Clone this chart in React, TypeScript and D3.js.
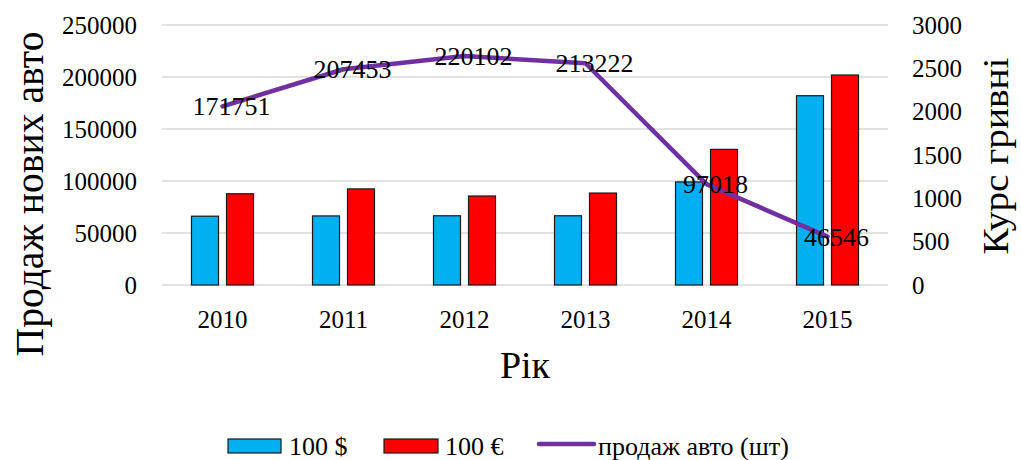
import React, { useEffect, useRef } from "react";
import * as d3 from "d3";

const years = ["2010", "2011", "2012", "2013", "2014", "2015"];
const usdRate = [794, 797, 799, 799, 1189, 2184];
const eurRate = [1053, 1109, 1027, 1061, 1565, 2423];
const carSales = [171751, 207453, 220102, 213222, 97018, 46546];
const leftTicks = [0, 50000, 100000, 150000, 200000, 250000];
const rightTicks = [0, 500, 1000, 1500, 2000, 2500, 3000];

const FONT = "'Liberation Serif', 'Times New Roman', serif";

const App = () => {
  const chartRef = useRef<SVGSVGElement>(null);

  useEffect(() => {
    const svg = d3.select(chartRef.current);
    svg.selectAll("*").remove();

    const width = 1021,
      height = 460;
    const margin = { top: 25, right: 133, bottom: 175, left: 162 };
    const innerWidth = width - margin.left - margin.right;
    const innerHeight = height - margin.top - margin.bottom;

    svg.attr("width", width).attr("height", height);
    svg.append("rect").attr("width", width).attr("height", height).attr("fill", "#fff");

    const root = svg.append("g").style("font-family", FONT);
    const g = root.append("g").attr("transform", `translate(${margin.left},${margin.top})`);

    const x0 = d3.scaleBand().domain(years).range([0, innerWidth]);
    const bw = x0.bandwidth();
    const x1 = d3
      .scaleBand()
      .domain(["usd", "eur"])
      .range([bw / 2 - 31, bw / 2 + 31])
      .paddingInner(0.229);

    const ySales = d3.scaleLinear().domain([0, 250000]).range([innerHeight, 0]);
    const yRate = d3.scaleLinear().domain([0, 3000]).range([innerHeight, 0]);

    // gridlines
    g.append("g")
      .selectAll("line")
      .data(leftTicks)
      .join("line")
      .attr("x1", 0)
      .attr("x2", innerWidth)
      .attr("y1", d => ySales(d))
      .attr("y2", d => ySales(d))
      .attr("stroke", "#d9d9d9")
      .attr("stroke-width", 1.3);

    // left axis labels
    g.append("g")
      .selectAll("text")
      .data(leftTicks)
      .join("text")
      .attr("x", -25)
      .attr("y", d => ySales(d))
      .attr("dy", "0.35em")
      .attr("text-anchor", "end")
      .attr("font-size", 25)
      .text(d => d);

    // right axis labels
    g.append("g")
      .selectAll("text")
      .data(rightTicks)
      .join("text")
      .attr("x", innerWidth + 24)
      .attr("y", d => yRate(d))
      .attr("dy", "0.35em")
      .attr("text-anchor", "start")
      .attr("font-size", 25)
      .text(d => d);

    // year labels
    g.append("g")
      .selectAll("text")
      .data(years)
      .join("text")
      .attr("x", d => x0(d)! + bw / 2)
      .attr("y", innerHeight + 43)
      .attr("text-anchor", "middle")
      .attr("font-size", 25)
      .text(d => d);

    // bars
    const groups = g
      .append("g")
      .selectAll("g")
      .data(years)
      .join("g")
      .attr("transform", d => `translate(${x0(d)},0)`);

    groups
      .append("rect")
      .attr("x", x1("usd")!)
      .attr("width", x1.bandwidth())
      .attr("y", (d, i) => yRate(usdRate[i]))
      .attr("height", (d, i) => innerHeight - yRate(usdRate[i]))
      .attr("fill", "#00b0f0")
      .attr("stroke", "#1a1a1a")
      .attr("stroke-width", 1.2);

    groups
      .append("rect")
      .attr("x", x1("eur")!)
      .attr("width", x1.bandwidth())
      .attr("y", (d, i) => yRate(eurRate[i]))
      .attr("height", (d, i) => innerHeight - yRate(eurRate[i]))
      .attr("fill", "#ff0000")
      .attr("stroke", "#1a1a1a")
      .attr("stroke-width", 1.2);

    // sales line
    const line = d3
      .line<number>()
      .x((d, i) => x0(years[i])! + bw / 2)
      .y(d => ySales(d));

    g.append("path")
      .datum(carSales)
      .attr("fill", "none")
      .attr("stroke", "#7030a0")
      .attr("stroke-width", 4.5)
      .attr("stroke-linejoin", "round")
      .attr("stroke-linecap", "round")
      .attr("d", line);

    // data labels
    g.append("g")
      .selectAll("text")
      .data(carSales)
      .join("text")
      .attr("x", (d, i) => x0(years[i])! + bw / 2 + 9)
      .attr("y", d => ySales(d))
      .attr("dy", "0.35em")
      .attr("text-anchor", "middle")
      .attr("font-size", 26)
      .text(d => d);

    // axis titles
    root
      .append("text")
      .attr("transform", "translate(43,194) rotate(-90)")
      .attr("text-anchor", "middle")
      .attr("font-size", 40)
      .attr("textLength", 325)
      .attr("lengthAdjust", "spacingAndGlyphs")
      .text("Продаж  нових авто");

    root
      .append("text")
      .attr("transform", "translate(1008,156) rotate(-90)")
      .attr("text-anchor", "middle")
      .attr("font-size", 36)
      .attr("textLength", 197)
      .attr("lengthAdjust", "spacingAndGlyphs")
      .text("Курс  гривні");

    root
      .append("text")
      .attr("x", 525)
      .attr("y", 378)
      .attr("text-anchor", "middle")
      .attr("font-size", 38)
      .text("Рік");

    // legend
    const legend = root.append("g").attr("transform", "translate(0,446)");
    legend
      .append("rect")
      .attr("x", 228)
      .attr("y", -7)
      .attr("width", 53)
      .attr("height", 14)
      .attr("fill", "#00b0f0")
      .attr("stroke", "#1a1a1a")
      .attr("stroke-width", 1.2);
    legend.append("text").attr("x", 289).attr("y", 9).attr("font-size", 26).text("100 $");
    legend
      .append("rect")
      .attr("x", 384)
      .attr("y", -7)
      .attr("width", 54)
      .attr("height", 14)
      .attr("fill", "#ff0000")
      .attr("stroke", "#1a1a1a")
      .attr("stroke-width", 1.2);
    legend.append("text").attr("x", 445).attr("y", 9).attr("font-size", 26).text("100 €");
    legend
      .append("line")
      .attr("x1", 539)
      .attr("x2", 594)
      .attr("y1", -2)
      .attr("y2", -2)
      .attr("stroke", "#7030a0")
      .attr("stroke-width", 4.5)
      .attr("stroke-linecap", "round");
    legend
      .append("text")
      .attr("x", 598)
      .attr("y", 9)
      .attr("font-size", 26)
      .text("продаж авто (шт)");
  }, []);

  return <svg ref={chartRef} style={{ position: "absolute", left: 0, top: 0 }}></svg>;
};

export default App;
